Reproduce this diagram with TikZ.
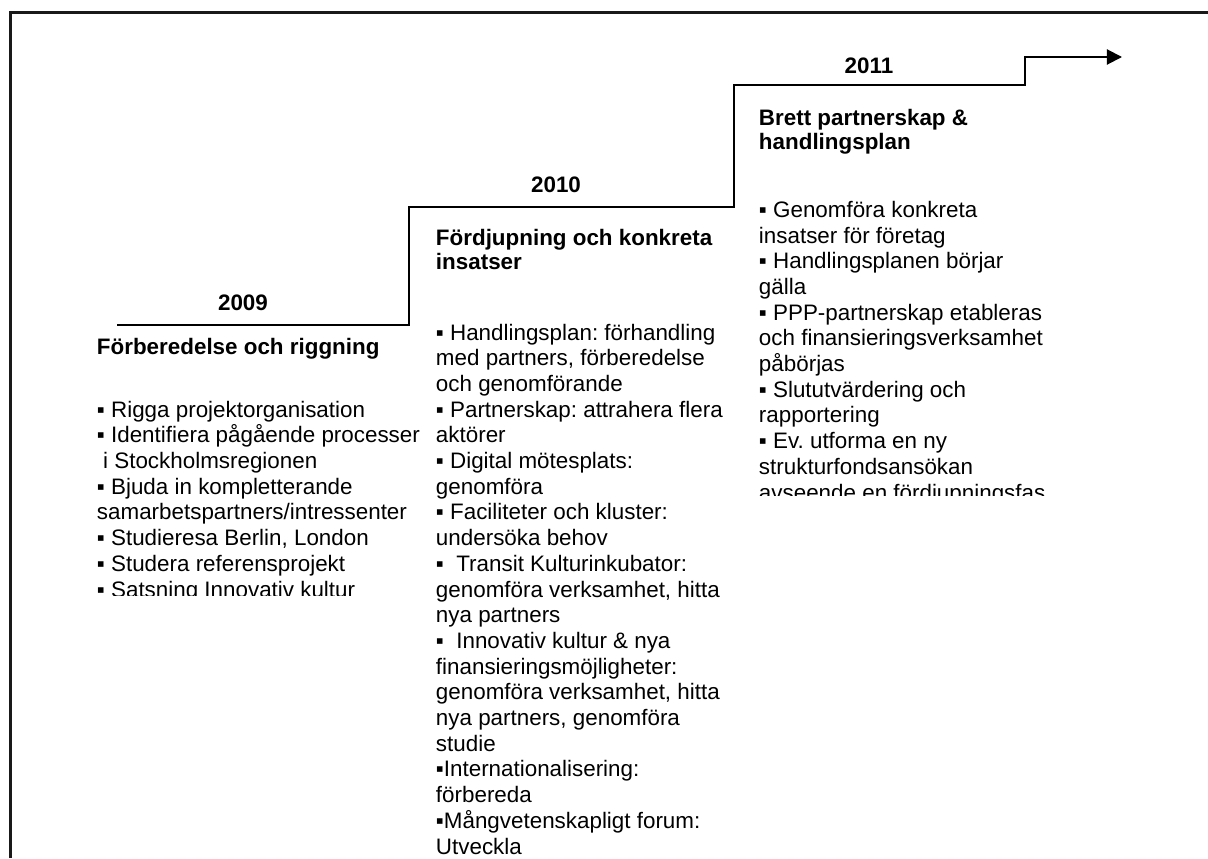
\documentclass[tikz,border=0pt]{standalone}
\usepackage{fontspec}
\setmainfont{Liberation Sans}
\usetikzlibrary{arrows.meta}
\frenchspacing
\tikzset{geometry/.style={line width=1.4pt}}
\tikzset{frameLine/.style={line width=1.9pt, draw=black!90}}
\tikzset{yearLabel/.style={font=\bfseries\fontsize{15.93}{18.28}\selectfont, anchor=base, inner sep=0}}
\tikzset{phaseTitle/.style={font=\bfseries\fontsize{15.93}{16.8}\selectfont, anchor=base west, align=left, inner sep=0}}
\tikzset{phaseItems/.style={font=\fontsize{15.93}{18.28}\selectfont, anchor=base west, align=left, inner sep=0}}

\begin{document}
\begin{tikzpicture}[x=0.25mm,y=-0.25mm,geometry]
\useasboundingbox (0,0) rectangle (1208,858);
\fill[white] (0,0) rectangle (1208,858);

% frame (only left and top edges are inside the page)
\draw[frameLine] (10.3,858) -- (10.3,12.8) -- (1208,12.8);

% step line with arrow
\draw[-{Triangle[length=3.8mm,width=3.8mm]}] (117,325) -- (409,325) -- (409,207) -- (734,207)
  -- (734,85) -- (1025,85) -- (1025,57) -- (1122,57);

% years
\node[yearLabel] (year2009) at (243,310) {2009};
\node[yearLabel] (year2010) at (556,192) {2010};
\node[yearLabel] (year2011) at (869,73) {2011};

% phase 1 (base = last line)
\node[phaseTitle] (title2009) at (96,354) {Förberedelse och riggning};
\begin{scope}
\clip (80,330) rectangle (420,595);
\node[phaseItems] (items2009) at (96,597) {%
  ▪ Rigga projektorganisation\\
  ▪ Identifiera pågående processer\\
  \ i Stockholmsregionen\\
  ▪ Bjuda in kompletterande\\
  samarbetspartners/intressenter\\
  ▪ Studieresa Berlin, London\\
  ▪ Studera referensprojekt\\
  ▪ Satsning Innovativ kultur};
\end{scope}

% phase 2
\node[phaseTitle] (title2010) at (435,269) {Fördjupning och konkreta\\insatser};
\node[phaseItems] (items2010) at (435,854) {%
  ▪ Handlingsplan: förhandling\\
  med partners, förberedelse\\
  och genomförande\\
  ▪ Partnerskap: attrahera flera\\
  aktörer\\
  ▪ Digital mötesplats:\\
  genomföra\\
  ▪ Faciliteter och kluster:\\
  undersöka behov\\
  ▪ \ Transit Kulturinkubator:\\
  genomföra verksamhet, hitta\\
  nya partners\\
  ▪ \ Innovativ kultur \& nya\\
  finansieringsmöjligheter:\\
  genomföra verksamhet, hitta\\
  nya partners, genomföra\\
  studie\\
  ▪Internationalisering:\\
  förbereda\\
  ▪Mångvetenskapligt forum:\\
  Utveckla};

% phase 3
\node[phaseTitle] (title2011) at (758,149) {Brett partnerskap \&\\handlingsplan};
\begin{scope}
\clip (740,180) rectangle (1100,495);
\node[phaseItems] (items2011) at (758,500) {%
  ▪ Genomföra konkreta\\
  insatser för företag\\
  ▪ Handlingsplanen börjar\\
  gälla\\
  ▪ PPP-partnerskap etableras\\
  och finansieringsverksamhet\\
  påbörjas\\
  ▪ Slututvärdering och\\
  rapportering\\
  ▪ Ev. utforma en ny\\
  strukturfondsansökan\\
  avseende en fördjupningsfas};
\end{scope}
\end{tikzpicture}
\end{document}
